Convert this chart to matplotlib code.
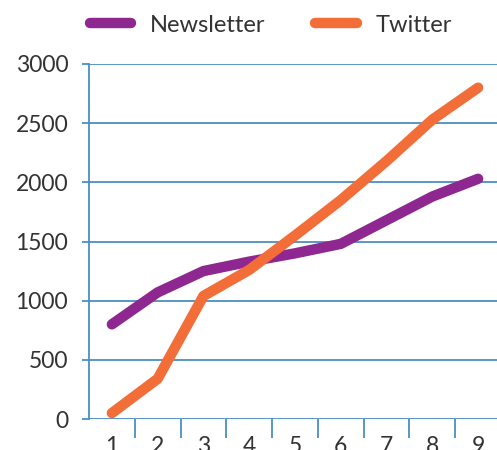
import matplotlib.pyplot as plt

# data
days = [1, 2, 3, 4, 5, 6, 7, 8, 9]
newsletter = [800, 1070, 1250, 1330, 1400, 1480, 1680, 1880, 2030]
twitter = [50, 340, 1040, 1260, 1550, 1850, 2180, 2530, 2800]
yticks = [0, 500, 1000, 1500, 2000, 2500, 3000]

blue = '#4a8fc0'
text_col = '#333333'
plt.rcParams['font.family'] = ['Lato', 'DejaVu Sans']

fig = plt.figure(figsize=(4.97, 4.5), dpi=100)
ax = fig.add_axes([89 / 497, 31 / 450, 412 / 497, 355 / 450])

ax.plot(days, newsletter, color='#8e278f', lw=7.5, solid_capstyle='round',
        solid_joinstyle='round', label='Newsletter', zorder=3)
ax.plot(days, twitter, color='#f26d38', lw=7.5, solid_capstyle='round',
        solid_joinstyle='round', label='Twitter', zorder=3)

ax.set_xlim(0.5, 9.5)
ax.set_ylim(0, 3000)
ax.set_yticks(yticks)
ax.set_xticks(days)
ax.set_xticks([d + 0.5 for d in days], minor=True)

ax.grid(axis='y', color=blue, lw=1.3)
ax.set_axisbelow(True)
for s in ['top', 'right', 'bottom']:
    ax.spines[s].set_visible(False)
ax.spines['left'].set_color(blue)
ax.spines['left'].set_linewidth(1.3)

ax.tick_params(axis='y', length=5, width=1.3, color=blue, pad=10,
               labelsize=16.5, labelcolor=text_col)
ax.tick_params(axis='x', which='major', length=0, pad=12,
               labelsize=16.5, labelcolor=text_col)
ax.tick_params(axis='x', which='minor', length=14, width=1.3, color=blue)

fig.legend(loc='upper center', bbox_to_anchor=(0.545, 1.015), ncol=2,
           frameon=False, fontsize=17, handlelength=1.75, columnspacing=2.1,
           handletextpad=0.8, labelcolor=text_col)

fig.savefig('out.png', dpi=100)
